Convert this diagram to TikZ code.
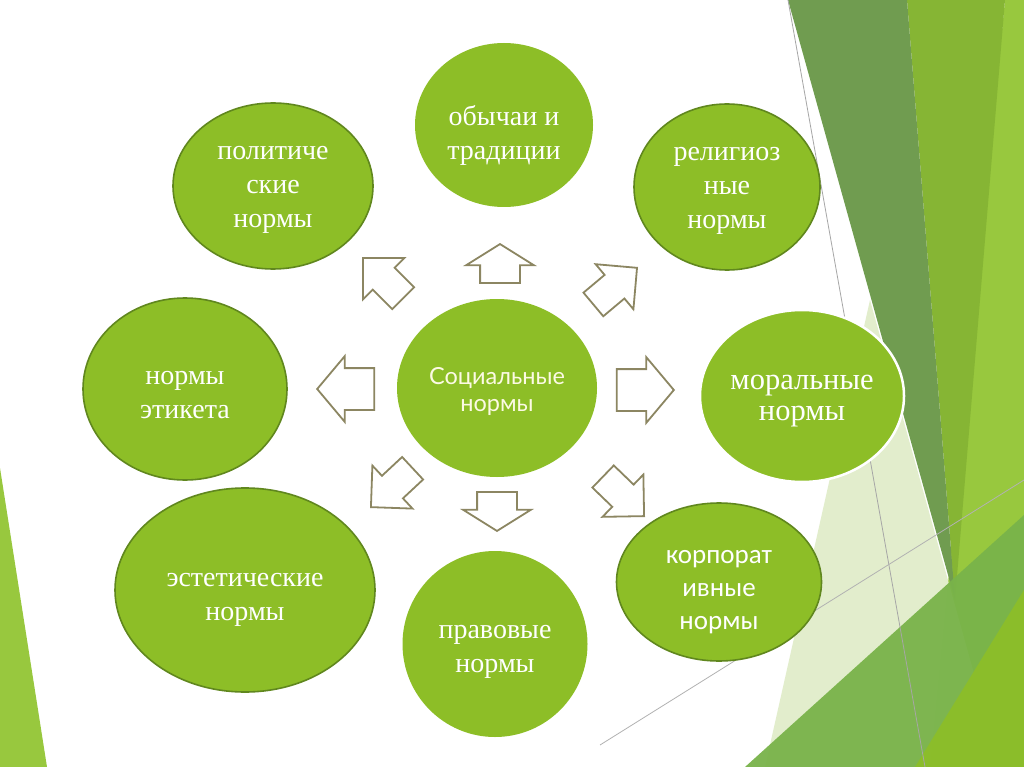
\documentclass[tikz,border=0pt]{standalone}
\usepackage{fontspec}
\setmainfont{Liberation Serif}
\newfontfamily\corpfont{Carlito}
\newfontfamily\socfont{Lato}
\usetikzlibrary{shapes.geometric,shapes.arrows}

\definecolor{leaf}{RGB}{141,190,39}
\definecolor{leafline}{RGB}{96,135,30}
\definecolor{arrowline}{RGB}{140,134,98}
\definecolor{bandgrey}{RGB}{112,156,80}
\definecolor{bandmid}{RGB}{134,181,52}
\definecolor{bandlight}{RGB}{152,200,62}
\definecolor{bandpale}{RGB}{221,235,196}
\definecolor{bandlow}{RGB}{121,179,74}
\definecolor{cream}{RGB}{252,250,228}

\tikzset{
  norm/.style={ellipse, fill=leaf, inner sep=0pt},
  words/.style={align=center, text=white, inner sep=0pt,
    font=\fontsize{28}{34}\selectfont},
  ring/.style={draw=leafline, line width=1.6pt},
  push/.style={single arrow, draw=arrowline, fill=white, line width=1.8pt,
    inner xsep=0pt, minimum width=1pt, anchor=tip},
  sidearrow/.style={push, minimum height=57pt, inner ysep=20pt,
    single arrow head extend=12pt, single arrow tip angle=100},
  vertarrow/.style={push, minimum height=39pt, inner ysep=19pt,
    single arrow head extend=14pt, single arrow tip angle=116},
  diagarrow/.style={push, minimum height=57pt, inner ysep=14.5pt,
    single arrow head extend=14pt, single arrow tip angle=90}
}

\begin{document}
\begin{tikzpicture}[x=1pt, y=-1pt]

  % Page
  \useasboundingbox (0,0) rectangle (1024,767);
  \fill[white] (0,0) rectangle (1024,767);

  % Green bands at the edges
  \fill[bandlight] (0,468) -- (47,767) -- (0,767) -- cycle;
  \fill[bandlight] (1005,0) -- (1024,0) -- (1024,767) -- (930,767) -- cycle;
  \fill[bandmid] (907,0) -- (1005,0) -- (955,600) -- cycle;
  \fill[bandgrey] (788,0) -- (907,0) -- (955,600) -- cycle;
  \fill[bandpale, opacity=0.85] (870,300) -- (1000,767) -- (765,767) -- cycle;
  \fill[bandlow, opacity=0.95] (745,767) -- (1024,515) -- (1024,767) -- cycle;
  \fill[leaf, opacity=0.9] (915,767) -- (1024,590) -- (1024,767) -- cycle;
  \draw[gray!70, line width=0.8pt] (788,0) -- (925,767);
  \draw[gray!60, line width=0.8pt] (600,745) -- (1024,480);

  % Centre
  \node[norm, minimum width=200pt, minimum height=178pt,
    label={[words, yshift=-3pt, text=cream, font=\socfont\fontsize{23.5}{27}\selectfont]center:Социальные\\нормы}] (soc) at (497,388) {};

  % Norms around it
  \node[norm, ring, minimum width=200pt, minimum height=166pt,
    label={[words, yshift=-4pt]center:политиче\\ские\\нормы}] (pol) at (273,186) {};
  \node[norm, minimum width=178pt, minimum height=164pt,
    label={[words, yshift=-10pt]center:обычаи и\\традиции}] (trad) at (504,125) {};
  \node[norm, ring, minimum width=186pt, minimum height=166pt,
    label={[words, yshift=-4pt]center:религиоз\\ные\\нормы}] (relig) at (727,187) {};
  \node[norm, ring, minimum width=204pt, minimum height=182pt,
    label={[words, yshift=-6pt]center:нормы\\этикета}] (etiq) at (185,389) {};
  \node[norm, draw=white, line width=2.5pt, minimum width=204pt, minimum height=172pt,
    label={[words, yshift=-5pt, font=\fontsize{30.5}{31}\selectfont]center:моральные\\нормы}] (moral) at (802,396) {};
  \node[norm, ring, minimum width=260pt, minimum height=204pt,
    label={[words, yshift=-10pt]center:эстетические\\нормы}] (estet) at (245,590) {};
  \node[norm, minimum width=185pt, minimum height=186pt,
    label={[words, yshift=-8pt]center:правовые\\нормы}] (prav) at (495,644) {};
  \node[norm, ring, minimum width=205pt, minimum height=158pt,
    label={[words, yshift=-10pt, font=\corpfont\fontsize{27}{33}\selectfont]center:корпорат\\ивные\\нормы}] (corp) at (719,582) {};

  % Block arrows
  \node[vertarrow, rotate=90] (toTrad) at (500,243) {};
  \node[vertarrow, rotate=-90] (toPrav) at (497,532) {};
  \node[sidearrow, rotate=180] (toEtiq) at (316,389) {};
  \node[sidearrow] (toMoral) at (675,390) {};
  \node[diagarrow, rotate=135] (toPol) at (362,257) {};
  \node[diagarrow, rotate=40] (toRelig) at (638,267) {};
  \node[diagarrow, rotate=223] (toEstet) at (370,508) {};
  \node[diagarrow, rotate=-44] (toCorp) at (645,517) {};

\end{tikzpicture}
\end{document}
